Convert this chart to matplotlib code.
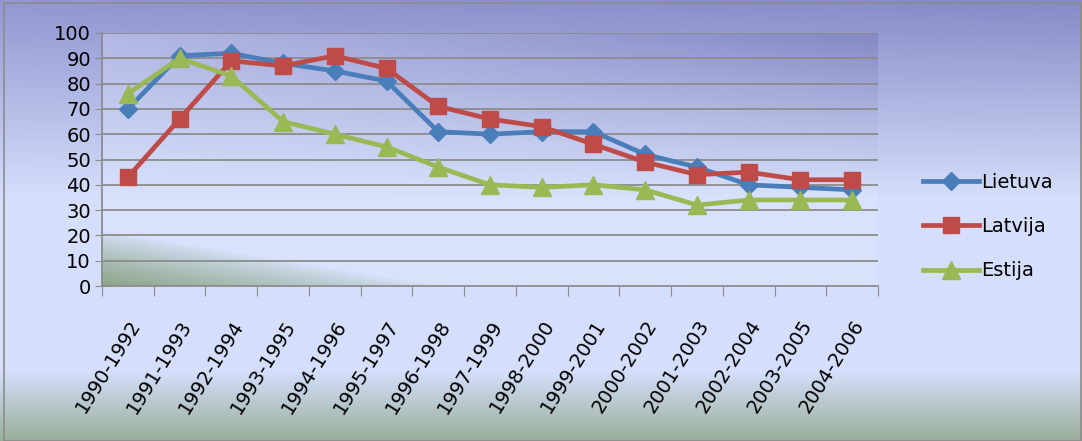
import numpy as np
import matplotlib.pyplot as plt
from matplotlib.patches import Rectangle

# Periods and values for the three countries
periods = ['1990-1992', '1991-1993', '1992-1994', '1993-1995', '1994-1996',
           '1995-1997', '1996-1998', '1997-1999', '1998-2000', '1999-2001',
           '2000-2002', '2001-2003', '2002-2004', '2003-2005', '2004-2006']
lietuva = [70, 91, 92, 88, 85, 81, 61, 60, 61, 61, 52, 47, 40, 39, 38]
latvija = [43, 66, 89, 87, 91, 86, 71, 66, 63, 56, 49, 44, 45, 42, 42]
estija = [76, 90, 83, 65, 60, 55, 47, 40, 39, 40, 38, 32, 34, 34, 34]
y_ticks = [0, 10, 20, 30, 40, 50, 60, 70, 80, 90, 100]


def lerp(c0, c1, t):
    t = np.clip(t, 0, 1)[..., None]
    return np.array(c0) * (1 - t) + np.array(c1) * t


def figure_background(h, w):
    yy, xx = np.mgrid[0:h, 0:w]
    yf = yy / h
    xf = xx / w
    top = lerp((145, 150, 208), (132, 138, 198), xf)
    img = lerp(top, np.broadcast_to(np.array((213, 223, 252)), top.shape), yf / 0.45)
    low = lerp((213, 223, 252), (152, 174, 152), (yf - 0.84) / 0.16)
    img = np.where((yf > 0.84)[..., None], low, img)
    return img / 255


def plot_background(h, w):
    yy, xx = np.mgrid[0:h, 0:w]
    u = 1 - yy / h          # 0 at bottom, 1 at top
    v = xx / w              # 0 left, 1 right
    top = lerp((178, 183, 228), (132, 136, 196), v)
    img = lerp(np.broadcast_to(np.array((216, 226, 252)), top.shape), top, (u - 0.35) / 0.65)
    g = np.clip(1 - (u + 0.5 * v) / 0.22, 0, 1) ** 0.8
    img = lerp(img, np.broadcast_to(np.array((138, 165, 134)), img.shape), g)
    return img / 255


fig = plt.figure(figsize=(10.82, 4.41), dpi=100)

bg = fig.add_axes([0, 0, 1, 1], zorder=0)
bg.imshow(figure_background(441, 1082), extent=[0, 1, 0, 1], aspect='auto')
bg.axis('off')
fig.patches.append(Rectangle((0.004, 0.0), 0.995, 0.993, transform=fig.transFigure,
                             fill=False, edgecolor='#8c8c8c', lw=1.2, zorder=1))

ax = fig.add_axes([102 / 1082, 1 - 286 / 441, 776 / 1082, 253 / 441], zorder=2)
ax.patch.set_alpha(0)
x = np.arange(len(periods))
ax.imshow(plot_background(253, 776), extent=[-0.5, len(periods) - 0.5, 0, 100],
          aspect='auto', zorder=0)

for yv in y_ticks[1:]:
    ax.axhline(yv, color='#8c8c8c', lw=1.3, zorder=1)

ax.plot(x, lietuva, color='#4a7ebb', lw=3.4, marker='D', ms=9, label='Lietuva', zorder=3)
ax.plot(x, latvija, color='#be4b48', lw=3.4, marker='s', ms=12, label='Latvija', zorder=4)
ax.plot(x, estija, color='#98b954', lw=3.4, marker='^', ms=13, label='Estija', zorder=5)

ax.set_xlim(-0.5, len(periods) - 0.5)
ax.set_ylim(0, 100)
ax.set_yticks(y_ticks)
ax.tick_params(axis='y', labelsize=14, length=5, color='#8c8c8c', pad=3)

ax.set_xticks(np.arange(-0.5, len(periods)), minor=False)
ax.set_xticklabels([])
ax.set_xticks(x, minor=True)
ax.set_xticklabels(periods, minor=True, rotation=58, ha='right', va='top',
                   rotation_mode='anchor', fontsize=14)
ax.tick_params(axis='x', which='major', length=7, color='#8c8c8c')
ax.tick_params(axis='x', which='minor', length=0, pad=22)

for side in ['top', 'right']:
    ax.spines[side].set_visible(False)
for side in ['left', 'bottom']:
    ax.spines[side].set_color('#8c8c8c')
    ax.spines[side].set_linewidth(1.3)

ax.legend(loc='center left', bbox_to_anchor=(1.035, 0.235), frameon=False,
          fontsize=14, handlelength=2.9, handletextpad=0.1, labelspacing=1.3)

fig.savefig('out.png', dpi=100)
